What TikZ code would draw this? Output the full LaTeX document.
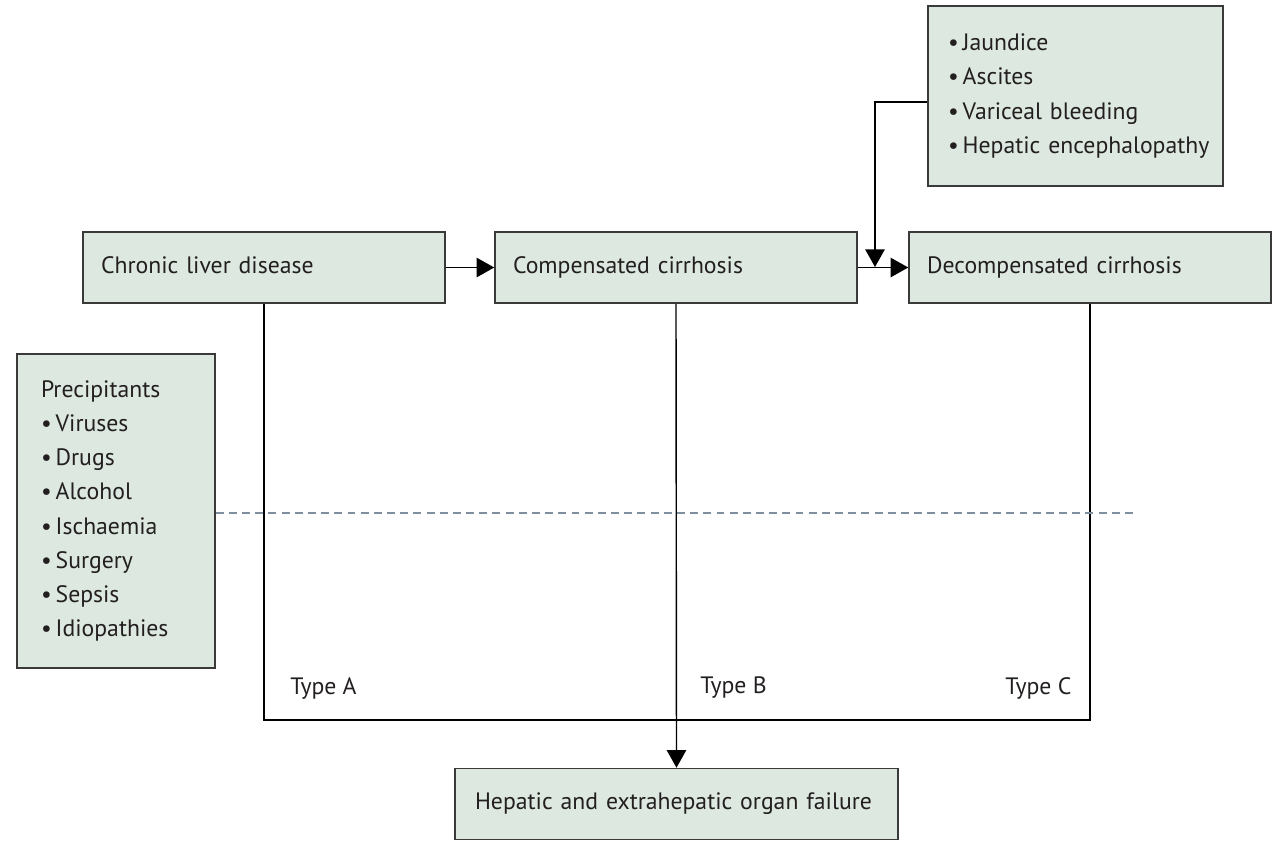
\documentclass[tikz,border=0pt]{standalone}
\usepackage{fontspec}
\setmainfont{PT Sans}
\usetikzlibrary{arrows.meta}
\definecolor{boxfill}{HTML}{DCE8E0}
\definecolor{boxline}{HTML}{3A3A3A}
\definecolor{txt}{HTML}{231F20}
\definecolor{dashcol}{HTML}{7F8FA0}
\newcommand{\itm}[1]{\mbox{\textbullet\,#1}}
\tikzset{
  boxbase/.style={draw=boxline, line width=0.9pt, fill=boxfill, text=txt,
    align=left, font=\fontsize{13.5}{19.5}\selectfont},
  stagebox/.style={boxbase, minimum height=1.42cm, inner xsep=0.36cm, text height=9.5pt, text depth=3pt},
  listbox/.style={boxbase, inner xsep=0.4cm},
  arr/.style={line width=0.8pt, -{Triangle[length=10pt,width=11pt]}},
  link/.style={line width=0.8pt},
  typelabel/.style={text=txt, font=\fontsize{13.5}{16}\selectfont, inner sep=0pt}
}

\begin{document}
\begin{tikzpicture}[x=0.02cm, y=-0.02cm]
      \useasboundingbox (0,0) rectangle (1281,840);

      \node[stagebox, minimum width=7.24cm, text width=6.52cm] (chronic) at (264,267.5) {Chronic liver disease};
      \node[stagebox, minimum width=7.24cm, text width=6.52cm] (comp) at (676,267.5) {Compensated cirrhosis};
      \node[stagebox, minimum width=7.24cm, text width=6.52cm] (decomp) at (1090,267.5) {Decompensated cirrhosis};
      \node[stagebox, minimum width=8.86cm, text width=8.06cm, inner xsep=0.4cm] (failure) at (676.5,804) {Hepatic and extrahepatic organ failure};

      \node[listbox, minimum width=5.9cm, minimum height=3.6cm, text width=5.1cm] (events) at (1075.5,96)
        {\itm{Jaundice}\\ \itm{Ascites}\\ \itm{Variceal bleeding}\\ \itm{Hepatic encephalopathy}};
      \node[listbox, minimum width=3.96cm, minimum height=6.28cm, text width=3.0cm, inner xsep=0.48cm] (precip) at (116,511)
        {Precipitants\\ \itm{Viruses}\\ \itm{Drugs}\\ \itm{Alcohol}\\ \itm{Ischaemia}\\ \itm{Surgery}\\ \itm{Sepsis}\\ \itm{Idiopathies}};

      \coordinate (merge) at (875,267);
      \coordinate (base) at (676,720);
      \coordinate (dashend) at (1135,513);

      \draw[arr] (chronic) -- (comp);
      \draw[arr] (comp) -- (decomp);
      \draw[arr] (events.west |- 0,102) -| (merge);

      \draw[link] (chronic.south) |- (base) -| (decomp.south);
      \draw[arr] (comp.south) -- (failure.north);

      \draw[dashcol, line width=0.7pt, dash pattern=on 4.5pt off 3pt] (precip.east |- dashend) -- (dashend);

      \node[typelabel, anchor=west] (typeA) at (290,688) {Type A};
      \node[typelabel, anchor=west] (typeB) at (700,688) {Type B};
      \node[typelabel, anchor=west] (typeC) at (1005,688) {Type C};
    \end{tikzpicture}
\end{document}
